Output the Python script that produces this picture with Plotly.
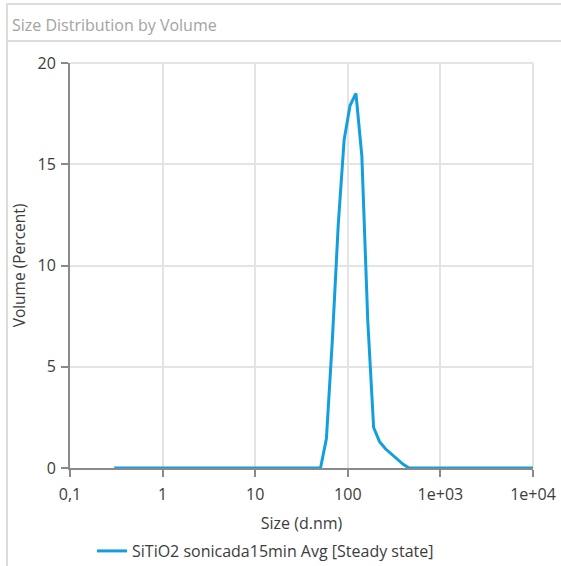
import plotly.graph_objects as go

# Data
size_nm = [0.3, 43.82, 50.75, 58.77, 68.06, 78.82, 91.28, 105.7, 122.4, 141.8,
           164.2, 190.1, 220.2, 255.0, 295.3, 342.0, 396.1, 458.7, 531.2, 10000]
volume_pct = [0.0, 0.0, 0.0, 1.46, 6.3, 12.0, 16.2, 17.9, 18.5, 15.4,
              7.3, 2.0, 1.3, 0.95, 0.68, 0.42, 0.18, 0.0, 0.0, 0.0]
series_name = "SiTiO2 sonicada15min Avg [Steady state]"

x_tickvals = [0.1, 1, 10, 100, 1000, 10000]
x_ticktext = ["0,1", "1", "10", "100", "1e+03", "1e+04"]
y_tickvals = [0, 5, 10, 15, 20]

W, H = 561, 566
L, R, T, B = 70, 28, 63, 98
pw, ph = W - L - R, H - T - B

def px(xp):
    return (xp - L) / pw

def py(yp):
    return (H - B - yp) / ph

FONT = "Open Sans"
AXIS_C = "#8a8a8a"
TXT_C = "#3c3c3c"
GRID_C = "#e4e4e4"

fig = go.Figure()
fig.add_trace(go.Scatter(
    x=size_nm, y=volume_pct, mode="lines", name=series_name,
    line=dict(color="#139fdd", width=3),
))

panel = "#dcdcdc"
shapes = [
    # outer panel frame and title separator
    dict(type="line", xref="paper", yref="paper", x0=px(6), x1=px(561), y0=py(4), y1=py(4),
         line=dict(color=panel, width=2)),
    dict(type="line", xref="paper", yref="paper", x0=px(6), x1=px(561), y0=py(41), y1=py(41),
         line=dict(color=panel, width=2)),
    dict(type="line", xref="paper", yref="paper", x0=px(7), x1=px(7), y0=py(4), y1=py(566),
         line=dict(color=panel, width=2)),
    # plot frame (top and right), drawn like gridlines
    dict(type="line", xref="paper", yref="paper", x0=0, x1=1, y0=1, y1=1, layer="below",
         line=dict(color=GRID_C, width=2)),
    dict(type="line", xref="paper", yref="paper", x0=1, x1=1, y0=0, y1=1, layer="below",
         line=dict(color=GRID_C, width=2)),
]

fig.update_layout(
    width=W, height=H,
    margin=dict(l=L, r=R, t=T, b=B, autoexpand=False),
    paper_bgcolor="white", plot_bgcolor="white",
    font=dict(family=FONT, size=15, color=TXT_C),
    shapes=shapes,
    annotations=[dict(text="Size Distribution by Volume", xref="paper", yref="paper",
                      x=px(10), y=py(25), xanchor="left", yanchor="middle", showarrow=False,
                      font=dict(family=FONT, size=16, color="#a3a3a3"))],
    showlegend=True,
    legend=dict(orientation="h", xref="container", yref="container",
                x=92 / W, xanchor="left", y=(H - 551) / H, yanchor="middle",
                font=dict(family=FONT, size=16, color=TXT_C), itemwidth=30),
    xaxis=dict(type="log", range=[-1, 4], tickvals=x_tickvals, ticktext=x_ticktext,
               showgrid=True, gridcolor=GRID_C, gridwidth=2, automargin=False,
               showline=True, linecolor=AXIS_C, linewidth=2,
               ticks="outside", ticklen=7, tickwidth=2, tickcolor=AXIS_C,
               ticklabelstandoff=4,
               tickfont=dict(size=16, color=TXT_C), zeroline=False,
               title=dict(text="Size (d.nm)", font=dict(size=16, color=TXT_C), standoff=18)),
    yaxis=dict(range=[0, 20], tickvals=y_tickvals,
               showgrid=True, gridcolor=GRID_C, gridwidth=2, automargin=False,
               showline=True, linecolor=AXIS_C, linewidth=2,
               ticks="outside", ticklen=7, tickwidth=2, tickcolor=AXIS_C,
               ticklabelstandoff=2,
               tickfont=dict(size=16, color=TXT_C), zeroline=False,
               title=dict(text="Volume (Percent)", font=dict(size=15.5, color=TXT_C), standoff=8)),
)

fig.write_html("out.html")
